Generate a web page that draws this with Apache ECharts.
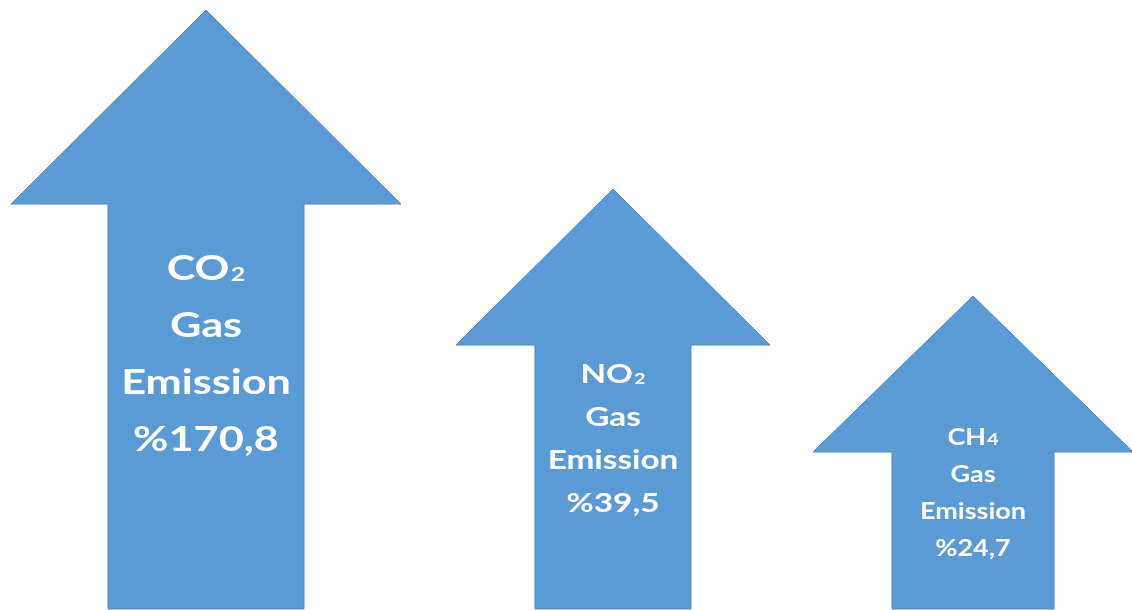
<!DOCTYPE html>
<html>
<head>
<meta charset="utf-8">
<script src="https://cdn.jsdelivr.net/npm/echarts@6/dist/echarts.min.js"></script>
<style>
  html, body { margin: 0; padding: 0; background: #ffffff; }
  #chart { width: 1132px; height: 610px; }
</style>
</head>
<body>
<div id="chart"></div>
<script>
// Gas names (trailing digits are drawn as small subscripts)
const gases = ['CO2', 'NO2', 'CH4'];
// Emission increase, percent
const emissionPct = [170.8, 39.5, 24.7];
// Arrow tip level on the hidden vertical scale (0 = bottom edge)
const arrowLevel = [600, 421, 314];

// Drawing layout for each arrow (hidden 0..1132 x 0..610 plane)
const layout = {
  centerX:   [206, 613, 973],
  headHalf:  [195, 157, 160],
  headDepth: [194, 156, 156],
  shaftHalf: [98, 78, 81],
  textY:     [255, 171, 117],
  fontSize:  [33.5, 25.8, 22.5],
  stretchX:  [1.29, 1.29, 1.2],
  lineH:     [57, 42.8, 36.9],
  subRatio:  [0.58, 0.58, 0.72]
};

const FONT = 'Lato';

function fmtPct(v) {
  return '%' + String(v).replace('.', ',');
}

function richName(name, k) {
  // split trailing digits into a subscript fragment
  const m = name.match(/^([A-Za-z]+)(\d*)$/);
  return '{b' + k + '|' + m[1] + '}' + (m[2] ? '{s' + k + '|' + m[2] + '}' : '');
}

const seriesData = gases.map((g, i) => [i, arrowLevel[i], emissionPct[i]]);

const chart = echarts.init(document.getElementById('chart'), null, { renderer: 'canvas' });

function renderArrow(params, api) {
  const i = api.value(0);
  const tip = api.value(1);
  const cx = layout.centerX[i];
  const hh = layout.headHalf[i];
  const hd = layout.headDepth[i];
  const sh = layout.shaftHalf[i];
  const base = tip - hd;
  const bottom = 1;
  const pts = [
    [cx, tip], [cx + hh, base], [cx + sh, base], [cx + sh, bottom],
    [cx - sh, bottom], [cx - sh, base], [cx - hh, base]
  ].map(p => api.coord(p));

  const fs = layout.fontSize[i];
  const lh = layout.lineH[i];
  const sfs = Math.round(fs * layout.subRatio[i] * 10) / 10;
  // push the subscript down so it sits on the main baseline
  const drop = 0.387 * (fs - sfs);
  const rich = {};
  rich['b' + i] = { fontSize: fs, lineHeight: lh, fontWeight: 'bold', fontFamily: FONT, fill: '#ffffff' };
  rich['s' + i] = { fontSize: sfs, lineHeight: lh, padding: [drop * 2, 0, 0, 1], fontWeight: 'bold', fontFamily: FONT, fill: '#ffffff' };
  const text = richName(gases[i], i) + '\n{b' + i + '|Gas}\n{b' + i + '|Emission}\n{b' + i + '|' + fmtPct(api.value(2)) + '}';
  const tpos = api.coord([cx, layout.textY[i]]);

  return {
    type: 'group',
    children: [
      {
        type: 'polygon',
        shape: { points: pts },
        style: { fill: '#5b9bd5', stroke: '#4f88bf', lineWidth: 1 }
      },
      {
        type: 'text',
        x: tpos[0],
        y: tpos[1],
        scaleX: layout.stretchX[i],
        style: {
          text: text,
          align: 'center',
          verticalAlign: 'middle',
          fontFamily: FONT,
          fontWeight: 'bold',
          fontSize: fs,
          lineHeight: lh,
          fill: '#ffffff',
          rich: rich
        }
      }
    ]
  };
}

chart.setOption({
  animation: false,
  backgroundColor: '#ffffff',
  grid: { left: 0, right: 0, top: 0, bottom: 0 },
  xAxis: { type: 'value', min: 0, max: 1132, show: false },
  yAxis: { type: 'value', min: 0, max: 610, show: false },
  series: [{
    type: 'custom',
    renderItem: renderArrow,
    clip: false,
    encode: { x: 0, y: 1 },
    data: seriesData
  }]
});
</script>
</body>
</html>
